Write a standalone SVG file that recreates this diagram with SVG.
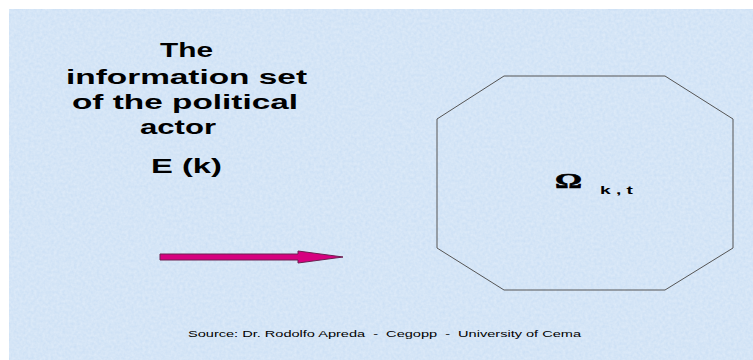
<svg xmlns="http://www.w3.org/2000/svg" width="753" height="360" viewBox="0 0 753 360">
<style>
.title{font-family:"Liberation Sans",Arial,sans-serif;font-weight:bold;font-size:20px;fill:#000;}
.src{font-family:"Liberation Sans",Arial,sans-serif;font-size:9.5px;fill:#000;white-space:pre;}
.shape{fill:none;stroke:#555;stroke-width:1;}
</style>
<defs>
<filter id="tex" x="0" y="0" width="100%" height="100%">
<feTurbulence type="fractalNoise" baseFrequency="0.35" numOctaves="2" seed="3" result="n"/>
<feColorMatrix in="n" type="matrix" values="0 0 0 0 0.93  0 0 0 0 0.96  0 0 0 0 1  0 0 0 0.45 0" result="c"/>
<feComposite in="c" in2="SourceGraphic" operator="over"/>
</filter>
</defs>
<rect width="753" height="360" fill="#ffffff"/>
<rect x="9" y="9" width="744" height="351" fill="#c9def4" filter="url(#tex)"/>
<g id="title">
<text class="title" x="160" y="57" textLength="53" lengthAdjust="spacingAndGlyphs">The</text>
<text class="title" x="66" y="84" textLength="241" lengthAdjust="spacingAndGlyphs">information set</text>
<text class="title" x="72" y="109" textLength="226" lengthAdjust="spacingAndGlyphs">of the political</text>
<text class="title" x="140" y="134" textLength="76" lengthAdjust="spacingAndGlyphs">actor</text>
<text class="title" x="151" y="173" textLength="71" lengthAdjust="spacingAndGlyphs">E (k)</text>
</g>
<g id="connectors">
<path d="M160,254 H298 V251 L343,257 L298,263 V260 H160 Z" fill="#d6007f" stroke="#6a2050" stroke-width="1"/>
</g>
<g id="omega-set">
<polygon class="shape" points="504,76 665,76 733,119 733,248 665,290 504,290 437,248 437,119"/>
<text x="555" y="188" font-family="'Liberation Serif','DejaVu Serif',serif" font-weight="bold" font-size="21" textLength="27" lengthAdjust="spacingAndGlyphs" stroke="#000" stroke-width="0.6">Ω</text>
<text x="600" y="194" font-family="'Liberation Sans',Arial,sans-serif" font-weight="bold" font-size="11" textLength="33" lengthAdjust="spacingAndGlyphs">k , t</text>
</g>
<g id="source">
<text class="src" x="188" y="337" textLength="393" lengthAdjust="spacingAndGlyphs" xml:space="preserve">Source: Dr. Rodolfo Apreda  -  Cegopp  -  University of Cema</text>
</g>
</svg>
